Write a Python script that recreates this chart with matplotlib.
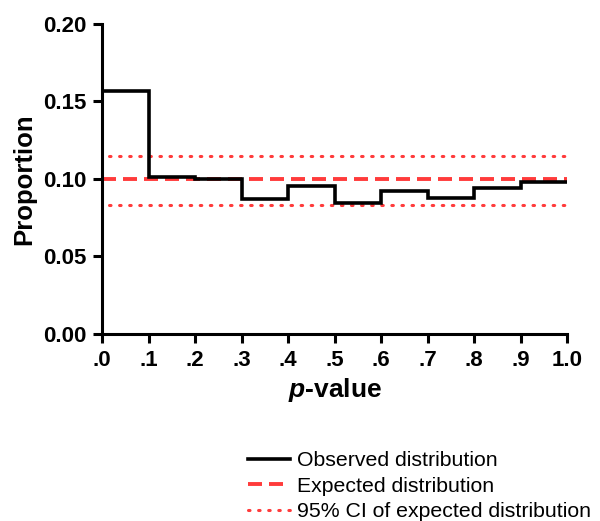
import matplotlib
matplotlib.use("Agg")
import matplotlib.pyplot as plt
import numpy as np

edges = [0.0, 0.1, 0.2, 0.3, 0.4, 0.5, 0.6, 0.7, 0.8, 0.9, 1.0]
observed = [0.157, 0.101, 0.100, 0.0873, 0.0956, 0.0847, 0.0924, 0.0875, 0.0941, 0.0982]
expected = 0.100
ci_low, ci_high = 0.0834, 0.1148
xtick_vals = [0.0, 0.1, 0.2, 0.3, 0.4, 0.5, 0.6, 0.7, 0.8, 0.9, 1.0]
xtick_labels = [".0", ".1", ".2", ".3", ".4", ".5", ".6", ".7", ".8", ".9", "1.0"]
ytick_vals = [0.00, 0.05, 0.10, 0.15, 0.20]
ytick_labels = ["0.00", "0.05", "0.10", "0.15", "0.20"]

plt.rcParams['font.family'] = ['Liberation Sans', 'DejaVu Sans']
plt.rcParams['mathtext.fontset'] = 'custom'
plt.rcParams['mathtext.it'] = 'Liberation Sans:italic:bold'
plt.rcParams['mathtext.rm'] = 'Liberation Sans:bold'

fig = plt.figure(figsize=(6.0, 5.21), dpi=100)
ax = fig.add_axes([0.17, 0.359, 0.775, 0.595])

red = '#ff3b3b'
ax.stairs(observed, edges, baseline=None, color='black', lw=2.6, label='Observed distribution', zorder=3)
ax.plot([0, 1], [expected, expected], color=red, lw=2.8, ls=(0, (3.6, 1.8)), label='Expected distribution', zorder=2)
ax.plot([0.014, 1], [ci_high, ci_high], color=red, lw=2.2, ls=(0, (0.5, 2.8)), dash_capstyle='round', label='95% CI of expected distribution', zorder=2)
ax.plot([0.014, 1], [ci_low, ci_low], color=red, lw=2.2, ls=(0, (0.5, 2.8)), dash_capstyle='round', zorder=2)

ax.set_xlim(0, 1)
ax.set_ylim(0, 0.2)
ax.set_xticks(xtick_vals)
ax.set_xticklabels(xtick_labels, fontsize=16, fontweight='bold')
ax.set_yticks(ytick_vals)
ax.set_yticklabels(ytick_labels, fontsize=16, fontweight='bold')
ax.spines['top'].set_visible(False)
ax.spines['right'].set_visible(False)
ax.spines['left'].set_linewidth(2.2)
ax.spines['bottom'].set_linewidth(2.2)
ax.tick_params(direction='out', length=6.3, width=2.2)
ax.tick_params(axis='y', pad=5)
ax.tick_params(axis='x', pad=5)
ax.set_ylabel('Proportion', fontsize=18.5, fontweight='bold', labelpad=5)
ax.set_xlabel(r'$p$-value', fontsize=19, fontweight='bold', labelpad=4)

fig.legend(loc='center left', bbox_to_anchor=(0.413, 0.067), frameon=False,
           fontsize=15.3, handlelength=1.97, handletextpad=0.33, labelspacing=0.3,
           borderpad=0, borderaxespad=0)

fig.savefig('out.png', dpi=100)
